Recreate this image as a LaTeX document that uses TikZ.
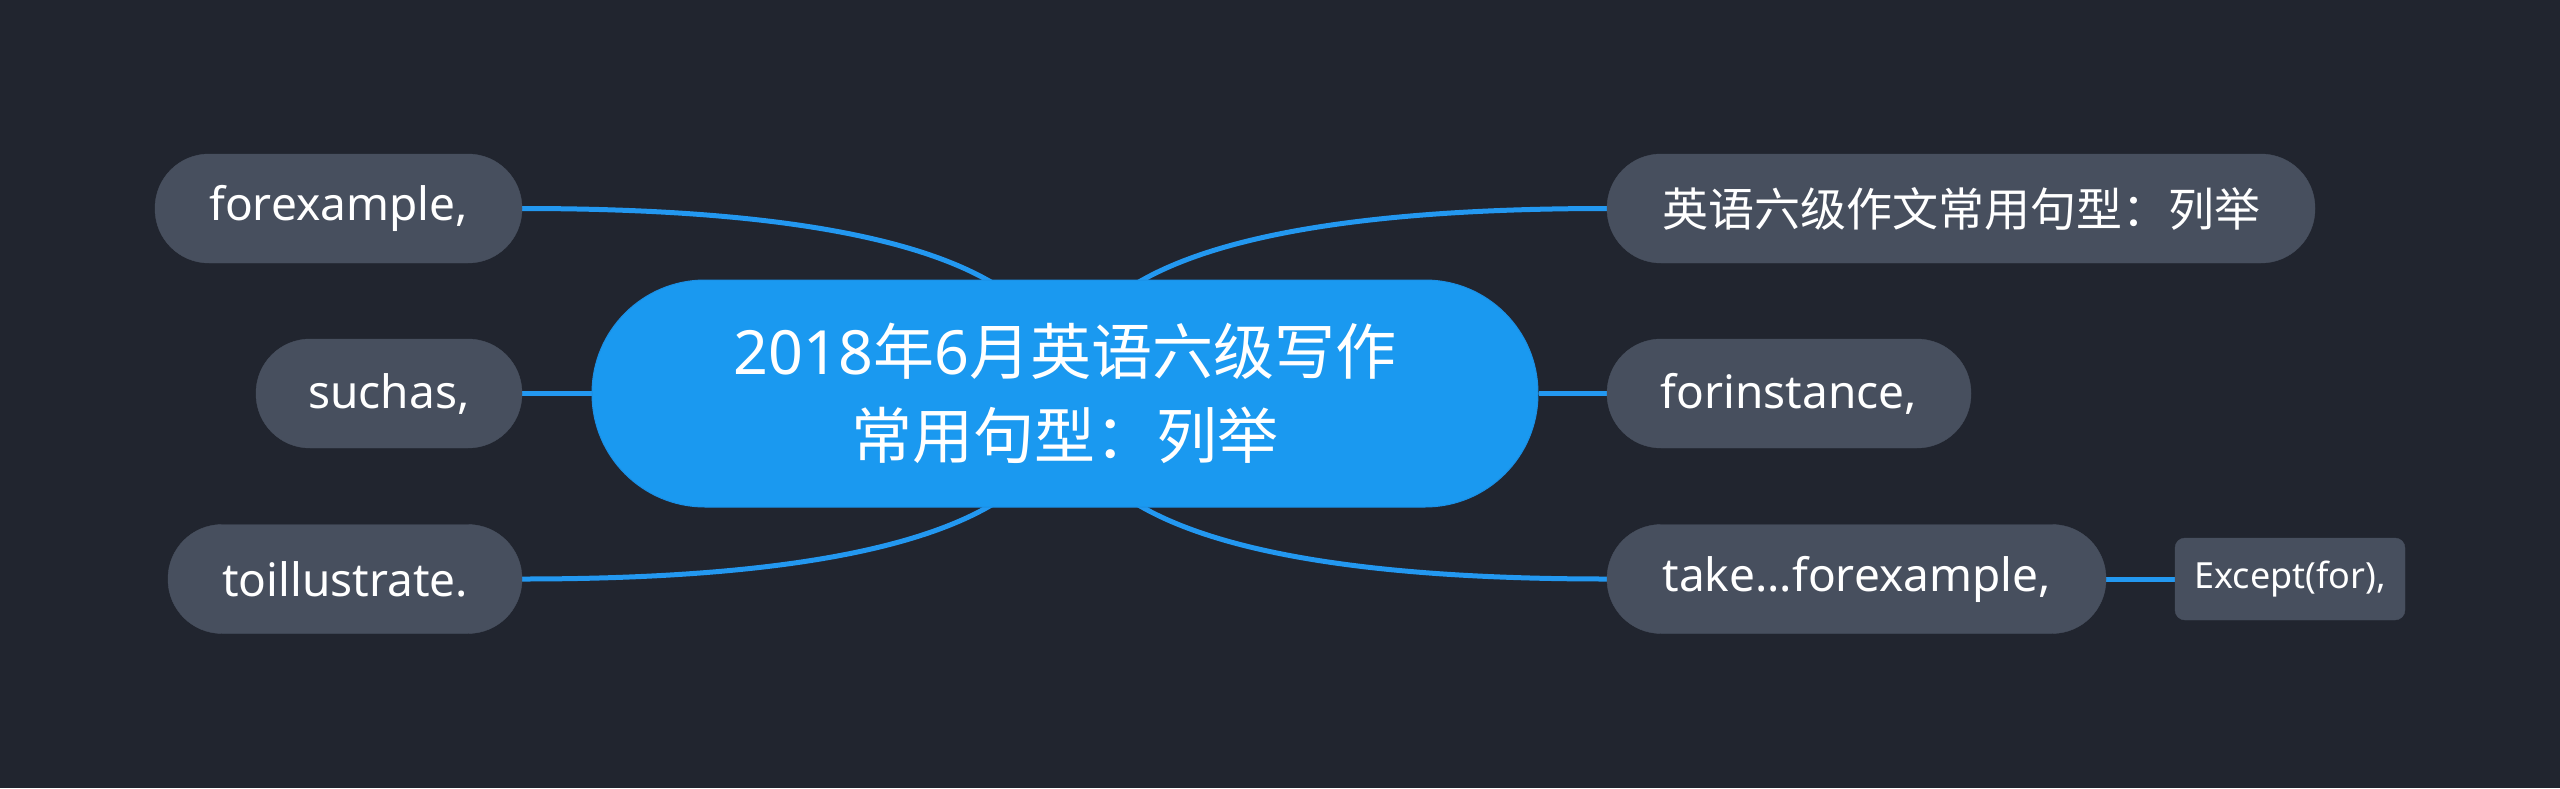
\documentclass[tikz,border=0pt]{standalone}
\usepackage{fontspec}
\setmainfont{Noto Sans}
\newfontfamily\cjk{Noto Sans CJK SC}
\usetikzlibrary{calc,backgrounds}
\definecolor{bgc}{HTML}{21252F}
\definecolor{childfill}{HTML}{474F5E}
\definecolor{mainfill}{HTML}{1A99F0}
\definecolor{mainline}{HTML}{1A90E6}
\definecolor{linkc}{HTML}{2398F0}
\begin{document}
\begin{tikzpicture}[x=1pt,y=1pt,
  leaf/.style={fill=childfill, draw=childfill, rounded corners=54pt, minimum height=109pt,
    inner sep=0pt, text=white, font=\fontsize{46}{55}\selectfont, align=center},
  subleaf/.style={fill=childfill, draw=childfill, rounded corners=10pt, minimum height=82pt,
    minimum width=230pt, inner sep=0pt, text=white, font=\fontsize{36}{42}\selectfont, align=center},
  root/.style={fill=mainfill, draw=mainline, line width=1pt, rounded corners=113pt,
    minimum height=227pt, minimum width=946pt, inner sep=0pt, text=white,
    font=\fontsize{61}{84}\selectfont, align=center},
  link/.style={draw=linkc, line width=5pt}
]
\useasboundingbox (0,0) rectangle (2560,-788);

\node[root] (c) at (1065,-393.5) {2018{\cjk 年}6{\cjk 月英语六级写作}\\{\cjk 常用句型：列举}};

\node[leaf, minimum width=367pt] (fe) at (338.5,-208.5) {forexample,};
\node[leaf, minimum width=266pt] (sa) at (389,-393.5) {suchas,};
\node[leaf, minimum width=354pt] (ti) at (345,-579) {toillustrate.};

\node[leaf, minimum width=708pt] (r1) at (1961,-208.5) {\cjk 英语六级作文常用句型：列举};
\node[leaf, minimum width=364pt] (r2) at (1789,-393.5) {forinstance,};
\node[leaf, minimum width=499pt] (r3) at (1856.5,-579) {take...forexample,};
\node[subleaf] (ex) at (2290,-579) {Except(for),};

\begin{pgfonlayer}{background}
  \fill[bgc] (0,0) rectangle (2560,-788);
  \draw[link] (fe.east) .. controls ($(fe.east)!0.667!(fe.east -| c.center)$) and ($(c.center)!0.667!(fe.east -| c.center)$) .. (c.center);
  \draw[link] (ti.east) .. controls ($(ti.east)!0.667!(ti.east -| c.center)$) and ($(c.center)!0.667!(ti.east -| c.center)$) .. (c.center);
  \draw[link] (r1.west) .. controls ($(r1.west)!0.667!(r1.west -| c.center)$) and ($(c.center)!0.667!(r1.west -| c.center)$) .. (c.center);
  \draw[link] (r3.west) .. controls ($(r3.west)!0.667!(r3.west -| c.center)$) and ($(c.center)!0.667!(r3.west -| c.center)$) .. (c.center);
  \draw[link] (sa.east) -- (c.west);
  \draw[link] (c.east) -- (r2.west);
  \draw[link] (r3.east) -- (ex.west);
\end{pgfonlayer}
\end{tikzpicture}
\end{document}
